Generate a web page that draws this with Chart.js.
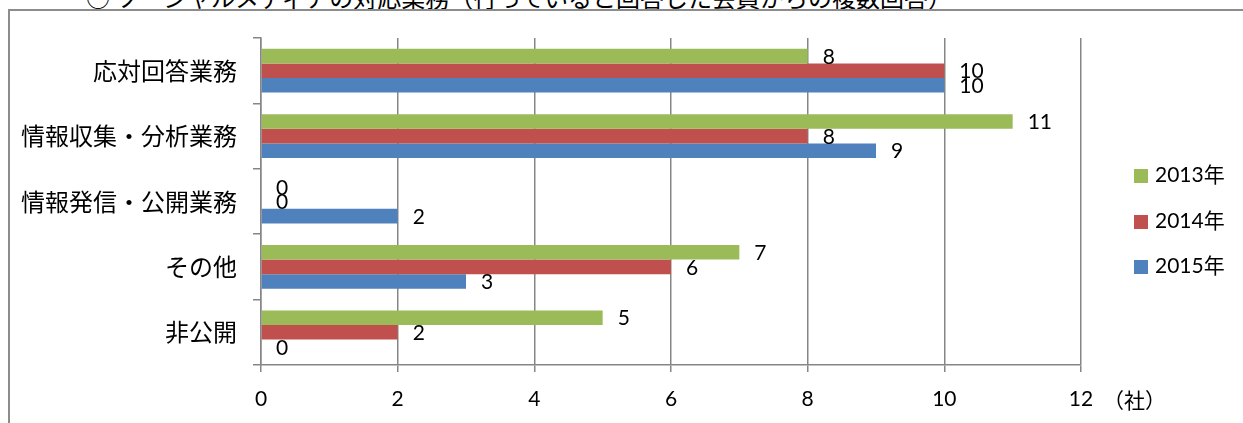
<!DOCTYPE html>
<html>
<head>
<meta charset="utf-8">
<script src="https://cdn.jsdelivr.net/npm/chart.js@4.4.0/dist/chart.umd.min.js"></script>
<style>
    body { margin: 0; width: 1243px; height: 423px; overflow: hidden; background: #fff; position: relative; }
    #titulo { position: absolute; left: 86px; top: -15px; font: 24px/24px "Noto Sans CJK JP"; white-space: nowrap; color: #000; }
    #marco { position: absolute; left: 8px; top: 9px; width: 1300px; height: 500px; border: 2px solid #8c8c8c; }
    #grafico { position: absolute; left: 0; top: 0; }
    .item { position: absolute; left: 1134px; height: 24px; line-height: 24px; font: 21px/24px Lato, "Noto Sans CJK JP"; color: #000; white-space: nowrap; }
    .item span { display: inline-block; width: 14px; height: 14px; margin-right: 7px; vertical-align: -1px; }
</style>
</head>
<body>
<div id="titulo">○ ソーシャルメディアの対応業務（行っていると回答した会員からの複数回答）</div>
<div id="marco"></div>
<canvas id="grafico" width="1243" height="423"></canvas>
<div id="leyenda"></div>
<script>
const categorias = ['応対回答業務', '情報収集・分析業務', '情報発信・公開業務', 'その他', '非公開'];
const series = ['2013年', '2014年', '2015年'];
const datos2013 = [8, 11, 0, 7, 5];
const datos2014 = [10, 8, 0, 6, 2];
const datos2015 = [10, 9, 2, 3, 0];
const colores = ['#9BBB59', '#C0504D', '#4F81BD'];
const gris = '#868686';

// Etiquetas de valor al final de cada barra y la unidad del eje
const etiquetasValores = {
    id: 'etiquetasValores',
    afterDatasetsDraw(chart) {
        const ctx = chart.ctx;
        ctx.save();
        ctx.font = '21px Lato';
        ctx.fillStyle = '#000';
        ctx.textBaseline = 'middle';
        ctx.textAlign = 'left';
        chart.data.datasets.forEach((ds, i) => {
            chart.getDatasetMeta(i).data.forEach((bar, j) => {
                ctx.fillText(ds.data[j], bar.x + 15, bar.y + 1);
            });
        });
        const ejeX = chart.scales.x;
        ctx.font = '21px "Noto Sans CJK JP"';
        ctx.fillText('（社）', ejeX.right + 22, ejeX.top + 35);
        ctx.restore();
    }
};

const valores = [datos2013, datos2014, datos2015];

new Chart(document.getElementById('grafico'), {
    type: 'bar',
    data: {
        labels: categorias,
        datasets: series.map((nombre, i) => ({
            label: nombre,
            data: valores[i],
            backgroundColor: colores[i],
            borderWidth: 0,
            categoryPercentage: 0.67,
            barPercentage: 1
        }))
    },
    options: {
        indexAxis: 'y',
        responsive: false,
        animation: false,
        layout: { padding: { top: 38, right: 162, left: 0, bottom: 0 } },
        plugins: {
            legend: { display: false },
            tooltip: { enabled: false }
        },
        scales: {
            x: {
                min: 0,
                max: 12,
                ticks: { stepSize: 2, padding: 15, color: '#000', font: { family: 'Lato', size: 21 } },
                grid: { color: gris, lineWidth: 1.5, tickLength: 7 },
                border: { color: gris, width: 1.5 },
                afterFit: (eje) => { eje.height = 58; }
            },
            y: {
                ticks: { padding: 16, color: '#000', font: { family: '"Noto Sans CJK JP"', size: 24 } },
                grid: { offset: true, drawOnChartArea: false, color: gris, lineWidth: 1.5, tickLength: 8 },
                border: { color: gris, width: 1.5 },
                afterFit: (eje) => { eje.width = 261; }
            }
        }
    },
    plugins: [etiquetasValores]
});

// Leyenda a la derecha
const leyenda = document.getElementById('leyenda');
series.forEach((nombre, i) => {
    const item = document.createElement('div');
    item.className = 'item';
    item.style.top = (174 + i * 45.5 - 12) + 'px';
    item.innerHTML = '<span style="background:' + colores[i] + '"></span>' + nombre;
    leyenda.appendChild(item);
});
</script>
</body>
</html>
